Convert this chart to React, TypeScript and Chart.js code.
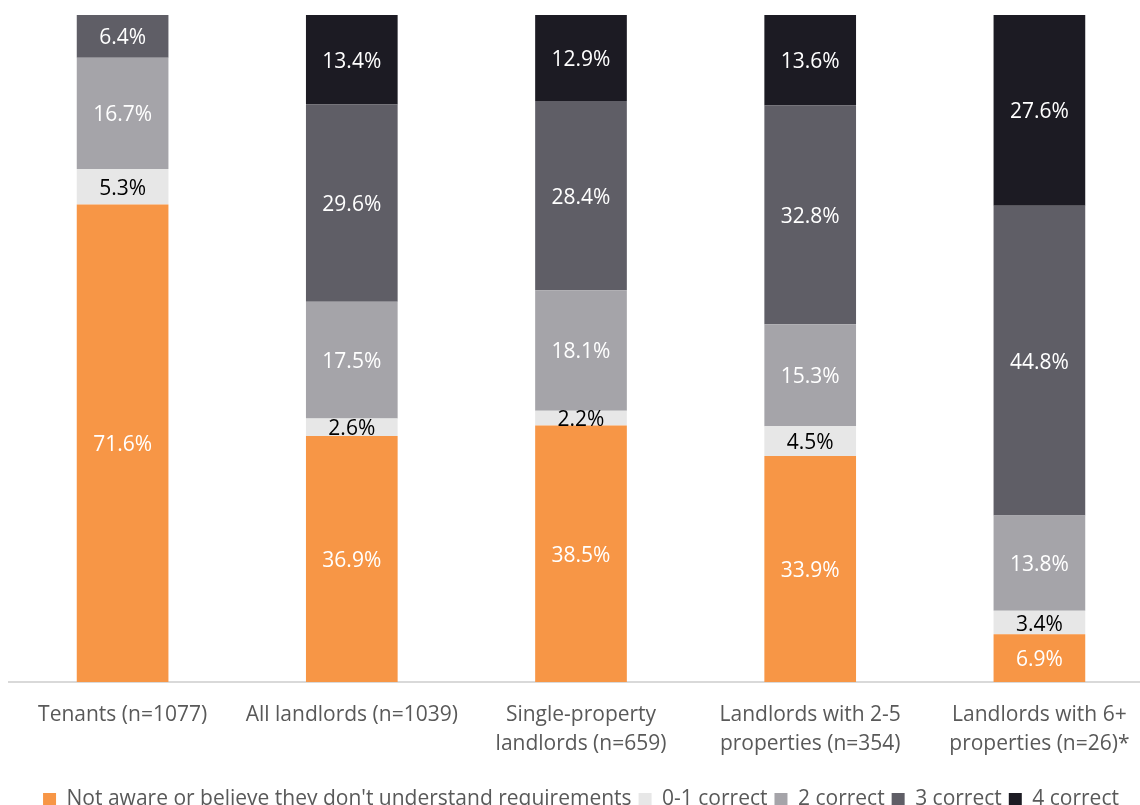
import React, { useEffect, useRef } from "react";
import { Chart, registerables } from "chart.js";

Chart.register(...registerables);

const categories: string[][] = [
  ["Tenants (n=1077)"],
  ["All landlords (n=1039)"],
  ["Single-property", "landlords (n=659)"],
  ["Landlords with 2-5", "properties (n=354)"],
  ["Landlords with 6+", "properties (n=26)*"],
];

const notAware: (number | null)[] = [71.6, 36.9, 38.5, 33.9, 6.9];
const correct01: (number | null)[] = [5.3, 2.6, 2.2, 4.5, 3.4];
const correct2: (number | null)[] = [16.7, 17.5, 18.1, 15.3, 13.8];
const correct3: (number | null)[] = [6.4, 29.6, 28.4, 32.8, 44.8];
const correct4: (number | null)[] = [null, 13.4, 12.9, 13.6, 27.6];

const seriesNames = [
  "Not aware or believe they don't understand requirements",
  "0-1 correct",
  "2 correct",
  "3 correct",
  "4 correct",
];
const seriesColors = ["#F79646", "#E7E7E7", "#A5A4A9", "#5F5E66", "#1C1B23"];
const labelColors = ["#FFFFFF", "#000000", "#FFFFFF", "#FFFFFF", "#FFFFFF"];

const FONT = "'Open Sans', sans-serif";

export default function App() {
  const ref = useRef<HTMLCanvasElement | null>(null);

  useEffect(() => {
    if (!ref.current) return;
    const raw = [notAware, correct01, correct2, correct3, correct4];
    const totals = categories.map((_, i) =>
      raw.reduce((s, arr) => s + (arr[i] ?? 0), 0)
    );
    const datasets = raw.map((arr, k) => ({
      label: seriesNames[k],
      data: arr.map((v, i) => (v == null ? null : (v / totals[i]) * 100)),
      rawValues: arr,
      backgroundColor: seriesColors[k],
      borderWidth: 0,
      barPercentage: 0.4,
      categoryPercentage: 1,
    }));

    const labelPlugin = {
      id: "segLabels",
      afterDatasetsDraw(chart: any) {
        const ctx = chart.ctx;
        ctx.save();
        ctx.font = `21px ${FONT}`;
        ctx.textAlign = "center";
        ctx.textBaseline = "middle";
        chart.data.datasets.forEach((ds: any, k: number) => {
          const meta = chart.getDatasetMeta(k);
          meta.data.forEach((el: any, i: number) => {
            const v = ds.rawValues[i];
            if (v == null) return;
            ctx.fillStyle = labelColors[k];
            ctx.fillText(v.toFixed(1) + "%", el.x, (el.y + el.base) / 2 + 2);
          });
        });
        ctx.restore();
      },
    };

    const chart = new Chart(ref.current, {
      type: "bar",
      data: { labels: categories as any, datasets: datasets as any },
      options: {
        animation: false,
        responsive: false,
        maintainAspectRatio: false,
        layout: { padding: { top: 7, left: 0, right: 0, bottom: 0 } },
        plugins: {
          legend: {
            position: "bottom",
            labels: {
              boxWidth: 13,
              boxHeight: 13,
              padding: 7,
              color: "#595959",
              font: { family: FONT, size: 21 },
            },
          },
          tooltip: { enabled: false },
        },
        scales: {
          x: {
            stacked: true,
            grid: { display: false },
            border: { display: true, color: "#D9D9D9", width: 2 },
            ticks: {
              color: "#595959",
              font: { family: FONT, size: 21, lineHeight: 1.38 },
              padding: 11,
              maxRotation: 0,
              autoSkip: false,
            },
            afterFit: (scale: any) => {
              scale.height = 100;
            },
          },
          y: {
            stacked: true,
            display: false,
            min: 0,
            max: 100,
          },
        },
      },
      plugins: [labelPlugin],
    });
    return () => chart.destroy();
  }, []);

  return (
    <div
      style={{
        position: "fixed",
        left: 0,
        top: 0,
        width: 1140,
        height: 805,
        overflow: "hidden",
        background: "#fff",
      }}
    >
      <canvas
        ref={ref}
        width={1146}
        height={812}
        style={{ position: "absolute", left: 8, top: 8, width: 1146, height: 812 }}
      />
    </div>
  );
}
